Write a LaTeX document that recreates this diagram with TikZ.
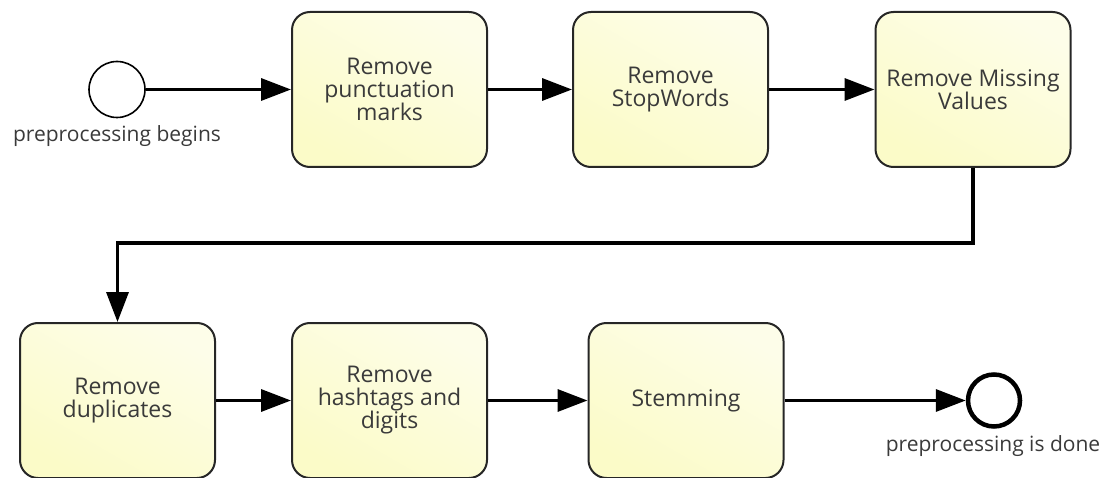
\documentclass[tikz,border=0pt]{standalone}
\usepackage{fontspec}
\setmainfont{Open Sans}
\usetikzlibrary{arrows.meta}
\definecolor{taskfill}{HTML}{FBFBC8}
\definecolor{txtgray}{HTML}{3A3A3A}
\begin{document}
\begin{tikzpicture}[x=1pt, y=-1pt,
	task/.style={rectangle, rounded corners=18pt, draw=black!85, line width=2pt, minimum width=195pt, minimum height=155pt, align=center, text=txtgray, font=\fontsize{23}{23}\selectfont, shading=axis, top color=taskfill!40, bottom color=taskfill, shading angle=-30},
	event/.style={circle, draw=black, minimum size=56pt, inner sep=0pt, fill=white},
	flow/.style={line width=3.4pt, -{Triangle[length=30pt, width=22pt]}},
	note/.style={text=txtgray, font=\fontsize{21}{23}\selectfont}]
	\useasboundingbox (0,0) rectangle (1107,478);
	\node[event, line width=1.6pt] at (117,89.5) (begin) {};
	\node[note] at (117,136) (beginlbl) {preprocessing begins};
	\node[task] at (389.5,89.5) (punct) {Remove\\punctuation\\marks};
	\node[task] at (670.5,89.5) (stop) {Remove\\StopWords};
	\node[task] at (973,89.5) (missing) {Remove Missing\\Values};
	\node[task] at (117.5,400.5) (dup) {Remove\\duplicates};
	\node[task] at (389.5,400.5) (hash) {Remove\\hashtags and\\digits};
	\node[task] at (686,400.5) (stem) {Stemming};
	\node[event, line width=4.5pt, minimum size=52pt] at (994,400.5) (done) {};
	\node[note] at (993,446) (donelbl) {preprocessing is done};
	\coordinate (turn) at (973,243);
	\draw[flow] (begin) -- (punct);
	\draw[flow] (punct) -- (stop);
	\draw[flow] (stop) -- (missing);
	\draw[flow] (missing.south) -- (missing.south |- turn) -| (dup.north);
	\draw[flow] (dup) -- (hash);
	\draw[flow] (hash) -- (stem);
	\draw[flow] (stem) -- (done);
\end{tikzpicture}
\end{document}
